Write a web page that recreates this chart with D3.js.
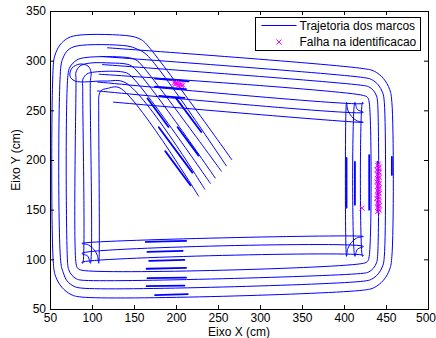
<!DOCTYPE html>
<html>
<head>
<meta charset="utf-8">
<script src="https://cdn.jsdelivr.net/npm/d3@7"></script>
<style>
  html, body { margin: 0; padding: 0; background: #fff; }
  #chart { width: 436px; height: 338px; }
  svg { display: block; }
</style>
</head>
<body>
<div id="chart"></div>
<script>
// eixos
const xTicks = [50, 100, 150, 200, 250, 300, 350, 400, 450, 500];
const yTicks = [50, 100, 150, 200, 250, 300, 350];
const legendLabels = ["Trajetoria dos marcos", "Falha na identificacao"];

// trajetoria de cada marco (cm), do fim da diagonal ate o fim da linha de cima
const marco1 = [[266.7,200],[163.5,317.8],[157.1,321.8],[145.2,324.8],[85.7,325.8],[71.4,322.8],[61.9,315.8],[56,305.7],[54,296],
  [54,96],[56.6,83],[64,72],[75,64.6],[88,62],[423,69],[436,71.6],[447,79],[454.4,90],[457,103],
  [457,258],[454.4,271],[447,282],[436,289.4],[423,292],[118,313]];
const marco2 = [[260.1,193.8],[165.4,305.7],[153.6,311.7],[141.7,314.8],[82.1,314.8],[71.4,310.7],[65.5,302.7],[63,294.6],
  [63,96],[65.9,86.4],[70.3,78.3],[78.4,72.9],[88,71],[423,78],[432.6,79.9],[440.7,85.3],[446.1,93.4],[448,103],
  [448,258],[446.1,267.6],[440.7,275.7],[432.6,281.1],[423,283],[110,304.3]];
const marco3 = [[254.3,188.4],[160.1,294.6],[152.4,300.7],[141.7,303.2],[92.9,303.2],[82.1,300.7],[73.8,293.6],[71.4,285.5],
  [71,96],[72.3,89.5],[76,84],[81.5,80.3],[88,79],[423,86],[429.5,87.3],[435,91],[438.7,96.5],[440,103],
  [440,258],[438.7,264.5],[435,270],[429.5,273.7],[423,275],[112,296.1]];
const marco4 = [[246.9,181.6],[148.8,293.6],[140.5,296.6],[123.8,297.6],[97.6,297.6],[85.7,294.6],[81,288.6],[81,280.5],
  [81,96],[83,91],[88,89],[423,96],[428,98],[430,103],
  [430,258],[428,263],[423,265],[108,286.4]];
const marco5 = [[241.1,176.2],[145.2,285.5],[136.9,288.6],[103.6,288.6],[94,286.6],[89.3,281.5],[89,270],
  [89,96],[88,97],[423,104],[422,103],
  [422,258],[423,257],[106,278.6]];
const marco6 = [[234.5,170.2],[140.5,277.5],[115.5,279.5],[79.8,279.5],[73.8,284.5],[76.2,292.6],[85.7,296.6],[95.2,294.6],[98.8,288.6],[98,278],
  [98,96],[95.1,103.1],[88,106],[423,113],[415.9,110.1],[413,103],
  [413,258],[415.9,250.9],[423,248],[106,269.6]];
const marco7 = [[227.2,163.2],[133.3,272.5],[118,272],[111,270],[108.3,265],[108,255],
  [108,96],[106.5,103.7],[102.1,110.1],[95.7,114.5],[88,116],[423,123],[415.3,121.5],[408.9,117.1],[404.5,110.7],[403,103],
  [403,258],[404.5,250.3],[408.9,243.9],[415.3,239.5],[423,238],[125,258.3]];

// trechos com muito ruido na deteccao: [x0, y0, x1, y1]
const trechosRuidosos = [
  [175,64,214,65],[165,73,210,73.5],[166,81,212,81.5],[165,90.5,212,91.5],[168,98.5,210,99.5],[166,107.5,208,108.5],[164,117.5,212,118.5],
  [403,152,403,202],[413,155,413,198],[430,150,430,205],[440,148,440,198],[457,185,457,203],
  [219.5,187.3,179.5,233],[226.9,204.4,201.9,233],[217.2,174.6,187.2,208.9],[230.1,228.1,200.1,262.3],[191.1,233.3,166.1,261.9],
  [175,281.9,215,279.1],[175,273.9,212,271.3],[180,264.6,210,262.6]
];

// falhas na identificacao (cm)
const falhas = [[441,196],[440,194.5],[442,193],[441,191.5],[439,190],[441,188.5],[442,187],[440,185.5],[441,184],[442,182.5],
  [440,181],[441,179.5],[439,178],[442,176.5],[441,175],[440,173.5],[442,172],[441,170.5],[440,169],[441,167.5],
  [442,166],[440,164.5],[441,163],[439,161.5],[441,160],[442,158.5],[440,157],[441,155.5],[442,154],[440,152.5],
  [441,151],[442,149.5],[440,148],[421.5,151.5],
  [198,278],[200,277.5],[202,277],[204,276.5],[206,276],[208,275.5],[199,276],[203,275],[207,274.5]];

const marcos = [marco1, marco2, marco3, marco4, marco5, marco6, marco7];

class TrajetoriaChart {
  constructor(config) {
    this.id = config.id;
    this.width = 436;
    this.height = 338;
    this.margin = { top: 11, right: 8, bottom: 29, left: 50 };
    this.blue = "#0000ff";
    this.magenta = "#ff00ff";
    this.font = '"Liberation Sans", Arial, Helvetica, sans-serif';
    this.createEle();
    this.drawChart();
  }

  createEle() {
    d3.select("#" + this.id).selectAll("svg").remove();
    this.svg = d3.select("#" + this.id).append("svg")
      .attr("width", this.width)
      .attr("height", this.height)
      .attr("font-family", this.font);
    this.innerW = this.width - this.margin.left - this.margin.right;
    this.innerH = this.height - this.margin.top - this.margin.bottom;
    this.x = d3.scaleLinear().domain([50, 500])
      .range([this.margin.left, this.margin.left + this.innerW]);
    this.y = d3.scaleLinear().domain([50, 350])
      .range([this.margin.top + this.innerH, this.margin.top]);
  }

  drawChart() {
    const x = this.x, y = this.y, m = this.margin;

    this.svg.append("clipPath").attr("id", "plotClip")
      .append("rect")
      .attr("x", m.left).attr("y", m.top)
      .attr("width", this.innerW).attr("height", this.innerH);

    const plot = this.svg.append("g").attr("clip-path", "url(#plotClip)");

    const line = d3.line()
      .x(d => x(d[0]))
      .y(d => y(d[1]))
      .curve(d3.curveCatmullRom.alpha(0.5));

    plot.append("g")
      .attr("fill", "none")
      .attr("stroke", this.blue)
      .attr("stroke-width", 1)
      .selectAll("path")
      .data(marcos)
      .join("path")
      .attr("d", line);

    plot.append("g")
      .attr("stroke", this.blue)
      .attr("stroke-width", 1.8)
      .attr("stroke-linecap", "round")
      .selectAll("line")
      .data(trechosRuidosos)
      .join("line")
      .attr("x1", d => x(d[0])).attr("y1", d => y(d[1]))
      .attr("x2", d => x(d[2])).attr("y2", d => y(d[3]));

    const cross = "M-2.5,-2.5L2.5,2.5M-2.5,2.5L2.5,-2.5";
    plot.append("g")
      .attr("stroke", this.magenta)
      .attr("stroke-width", 1)
      .attr("fill", "none")
      .selectAll("path")
      .data(falhas)
      .join("path")
      .attr("transform", d => `translate(${x(d[0])},${y(d[1])})`)
      .attr("d", cross);

    // eixos com marcas para dentro, em volta de toda a caixa
    const y0 = m.top + this.innerH;
    const x1 = m.left + this.innerW;
    const styleAxis = g => g.attr("font-size", 12).attr("font-family", this.font)
      .call(g => g.select(".domain").remove())
      .call(g => g.selectAll("text").attr("fill", "#000"))
      .call(g => g.selectAll(".tick line").attr("stroke", "#000"));

    this.svg.append("g").attr("transform", `translate(0,${y0})`)
      .call(d3.axisBottom(x).tickValues(xTicks).tickSizeInner(-4).tickSizeOuter(0).tickPadding(4.5))
      .call(styleAxis)
      // o ultimo rotulo encosta na borda da figura
      .call(g => g.selectAll(".tick text").filter(d => d === 500).attr("text-anchor", "end").attr("x", 7.5));
    this.svg.append("g").attr("transform", `translate(0,${m.top})`)
      .call(d3.axisTop(x).tickValues(xTicks).tickSizeInner(-4).tickSizeOuter(0).tickFormat(() => ""))
      .call(styleAxis);
    this.svg.append("g").attr("transform", `translate(${m.left},0)`)
      .call(d3.axisLeft(y).tickValues(yTicks).tickSizeInner(-4).tickSizeOuter(0).tickPadding(4))
      .call(styleAxis);
    this.svg.append("g").attr("transform", `translate(${x1},0)`)
      .call(d3.axisRight(y).tickValues(yTicks).tickSizeInner(-4).tickSizeOuter(0).tickFormat(() => ""))
      .call(styleAxis);

    this.svg.append("rect")
      .attr("x", m.left + 0.5).attr("y", m.top + 0.5)
      .attr("width", this.innerW).attr("height", this.innerH)
      .attr("fill", "none").attr("stroke", "#000").attr("stroke-width", 1);

    this.svg.append("text")
      .attr("x", m.left + this.innerW / 2)
      .attr("y", 335.5)
      .attr("text-anchor", "middle")
      .attr("font-size", 12)
      .text("Eixo X (cm)");

    this.svg.append("text")
      .attr("transform", `translate(19.5,${m.top + this.innerH / 2}) rotate(-90)`)
      .attr("text-anchor", "middle")
      .attr("font-size", 12)
      .text("Eixo Y (cm)");

    this.drawLegend(cross);
  }

  drawLegend(cross) {
    const lg = this.svg.append("g").attr("transform", "translate(255.5,17.5)");
    lg.append("rect")
      .attr("width", 165).attr("height", 33)
      .attr("fill", "#fff").attr("stroke", "#000").attr("stroke-width", 1);
    lg.append("line")
      .attr("x1", 6).attr("x2", 41).attr("y1", 8).attr("y2", 8)
      .attr("stroke", this.blue).attr("stroke-width", 1);
    lg.append("path")
      .attr("transform", "translate(23.5,24.5)")
      .attr("d", cross)
      .attr("stroke", this.magenta).attr("fill", "none");
    lg.selectAll("text")
      .data(legendLabels)
      .join("text")
      .attr("x", 44)
      .attr("y", (d, i) => 8 + i * 16.5)
      .attr("dy", "0.35em")
      .attr("font-size", 12)
      .text(d => d);
  }
}

new TrajetoriaChart({ id: "chart" });
</script>
</body>
</html>
